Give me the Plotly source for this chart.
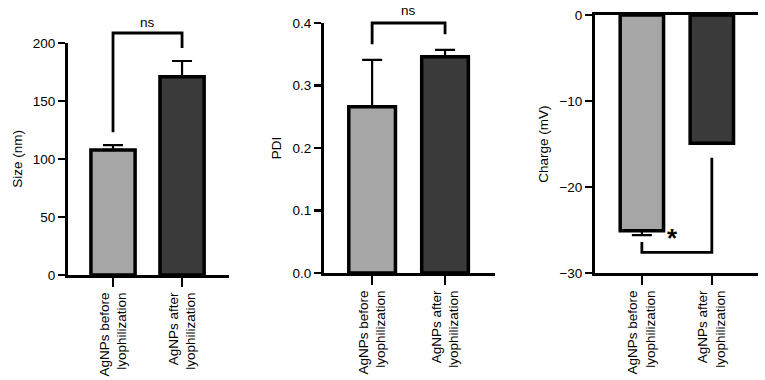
import plotly.graph_objects as go

categories = ["AgNPs before<br>lyophilization", "AgNPs after<br>lyophilization"]
bar_colors = ["#a6a6a6", "#3a3a3a"]

size_vals = [107.8, 171.0]
size_err_up = [4.2, 13.5]

pdi_vals = [0.266, 0.346]
pdi_err_up = [0.075, 0.011]

charge_vals = [-25.1, -14.9]
charge_err_down = [0.5, 0.0]

FONT = "Liberation Sans, Arial, sans-serif"
FS = 13.5
W, H = 765, 380


def dx(a, b):
    return [a / W, b / W]


def dy(bottom, top):
    return [1 - bottom / H, 1 - top / H]


fig = go.Figure()

panels = [
    dict(ax="", vals=size_vals, up=size_err_up, down=[0, 0], width=0.64),
    dict(ax="2", vals=pdi_vals, up=pdi_err_up, down=[0, 0], width=0.64),
    dict(ax="3", vals=charge_vals, up=[0, 0], down=charge_err_down, width=0.62),
]
for p in panels:
    fig.add_trace(go.Bar(
        x=categories, y=p["vals"], width=p["width"],
        marker=dict(color=bar_colors, line=dict(color="black", width=3.5)),
        error_y=dict(type="data", symmetric=False, array=p["up"], arrayminus=p["down"],
                     color="black", thickness=2.2, width=10),
        xaxis="x" + p["ax"], yaxis="y" + p["ax"], showlegend=False, hoverinfo="skip",
    ))

common_x = dict(type="category", showline=True, linecolor="black", linewidth=3,
                ticks="outside", ticklen=9, tickwidth=2.5, tickcolor="black",
                tickangle=-90, tickfont=dict(family=FONT, size=FS, color="black"),
                showgrid=False, zeroline=False, fixedrange=True, automargin=False)
common_y = dict(showline=True, linecolor="black", linewidth=3,
                ticks="outside", ticklen=7, tickwidth=2.5, tickcolor="black",
                tickfont=dict(family=FONT, size=FS, color="black"),
                showgrid=False, zeroline=False, fixedrange=True, automargin=False)

ranges = {"": [0, 200], "2": [0, 0.4], "3": [-30, 0]}

fig.update_layout(
    width=W, height=H, margin=dict(l=0, r=0, t=0, b=0, autoexpand=False),
    paper_bgcolor="white", plot_bgcolor="white",
    font=dict(family=FONT, size=FS, color="black"),
    xaxis=dict(common_x, domain=dx(68, 229), range=[-0.652, 1.68], anchor="y"),
    yaxis=dict(common_y, domain=dy(275, 43), range=ranges[""], dtick=50, anchor="x",
               title=dict(text="Size (nm)", font=dict(family=FONT, size=FS), standoff=8)),
    xaxis2=dict(common_x, domain=dx(324, 495), range=[-0.66, 1.685], anchor="y2"),
    yaxis2=dict(common_y, domain=dy(273, 23), range=ranges["2"], dtick=0.1, tickformat=".1f",
                anchor="x2", title=dict(text="PDI", font=dict(family=FONT, size=FS), standoff=8)),
    xaxis3=dict(common_x, domain=dx(595, 758), range=[-0.67, 1.66], anchor="y3", mirror=True),
    yaxis3=dict(common_y, domain=dy(273, 15), range=ranges["3"], dtick=10, anchor="x3",
                title=dict(text="Charge (mV)", font=dict(family=FONT, size=FS), standoff=8)),
)


def yd(ax, v):
    lo, hi = ranges[ax]
    return (v - lo) / (hi - lo)


def bracket(ax, top, left_end, right_end):
    xr = "x" + ax
    yr = ("y" + ax) + " domain"
    pts = [(0, yd(ax, left_end)), (0, yd(ax, top)), (1, yd(ax, top)), (1, yd(ax, right_end))]
    path = "M " + " L ".join(f"{x},{y}" for x, y in pts)
    fig.add_shape(type="path", path=path, xref=xr, yref=yr,
                  line=dict(color="black", width=2.8))


bracket("", 208.6, 123, 195.7)
bracket("2", 0.4, 0.366, 0.382)
bracket("3", -27.6, -26.4, -16.6)

fig.add_annotation(text="ns", x=0.5, y=yd("", 208.6), xref="x", yref="y domain",
                   yanchor="bottom", yshift=1, showarrow=False, font=dict(family=FONT, size=FS))
fig.add_annotation(text="ns", x=0.5, y=yd("2", 0.4), xref="x2", yref="y2 domain",
                   yanchor="bottom", yshift=3, showarrow=False, font=dict(family=FONT, size=FS))
fig.add_annotation(text="<b>*</b>", x=0.44, y=-25.9, xref="x3", yref="y3",
                   showarrow=False, font=dict(family=FONT, size=26))

fig.write_html("out.html", config={"displayModeBar": False, "staticPlot": True},
               post_script="document.body.style.margin='0';")
